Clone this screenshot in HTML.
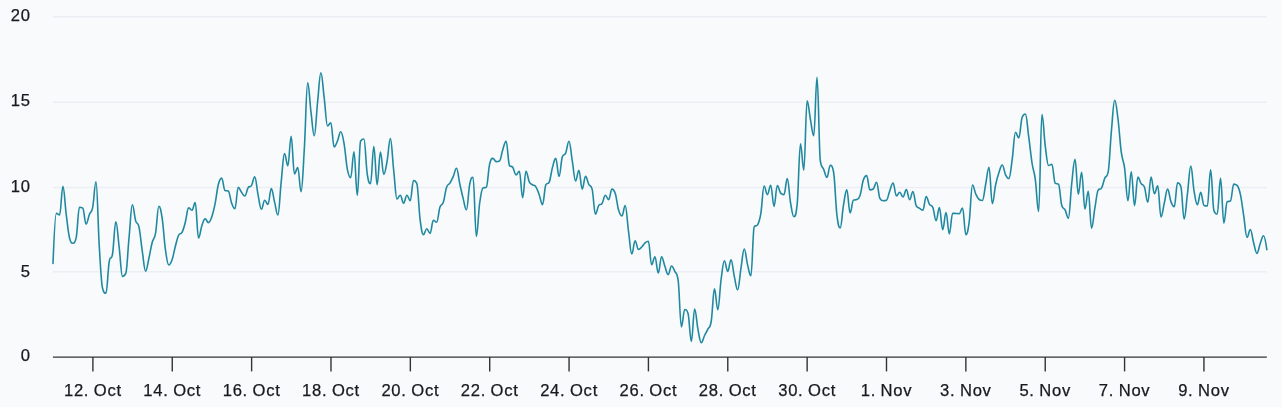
<!DOCTYPE html>
<html><head><meta charset="utf-8"><title>Chart</title>
<style>
html,body{margin:0;padding:0;background:#f8fafc;}
body{width:1282px;height:407px;overflow:hidden;}
svg{display:block;font-family:"Liberation Sans",sans-serif;font-size:16.6px;letter-spacing:0.72px;word-spacing:-0.7px;}
text{fill:#171a1e;stroke:#171a1e;stroke-width:0.25px;}
.g{stroke:#ebeef3;stroke-width:1.4;}
.t,.ax{stroke:#333;stroke-width:1.4;}
.s{fill:none;stroke:#2089a0;stroke-width:1.6;stroke-linejoin:round;stroke-linecap:round;}
</style></head><body>
<svg width="1282" height="407" viewBox="0 0 1282 407">
<rect width="1282" height="407" fill="#f8fafc"/>
<line x1="52.9" x2="1266.8" y1="271.80" y2="271.80" class="g"/>
<line x1="52.9" x2="1266.8" y1="187.50" y2="187.50" class="g"/>
<line x1="52.9" x2="1266.8" y1="102.20" y2="102.20" class="g"/>
<line x1="52.9" x2="1266.8" y1="16.70" y2="16.70" class="g"/>
<path class="s" d="M53.00 263.50C53.00 263.50 54.98 213.40 56.31 213.40C57.63 213.40 58.29 214.90 59.62 214.90C60.94 214.90 61.60 186.40 62.92 186.40C64.25 186.40 64.91 204.19 66.23 214.50C67.55 224.81 68.21 232.68 69.54 237.94C70.86 243.20 71.52 243.20 72.84 243.20C74.17 243.20 74.83 243.20 76.15 237.83C77.48 232.47 78.14 207.20 79.46 207.20C80.78 207.20 81.44 207.20 82.77 208.17C84.09 209.15 84.75 224.10 86.08 224.10C87.40 224.10 88.06 217.86 89.38 214.50C90.71 211.14 91.37 213.86 92.69 207.30C94.01 200.74 94.67 181.70 96.00 181.70C97.32 181.70 97.98 225.64 99.31 247.00C100.63 268.36 101.29 283.80 102.61 288.50C103.94 293.20 104.60 293.20 105.92 293.20C107.24 293.20 107.90 269.16 109.23 261.58C110.55 254.00 111.21 261.58 112.53 254.00C113.86 246.42 114.52 221.70 115.84 221.70C117.17 221.70 117.83 236.10 119.15 247.04C120.47 257.98 121.13 276.40 122.46 276.40C123.78 276.40 124.44 276.40 125.77 273.44C127.09 270.49 127.75 250.97 129.07 237.24C130.40 223.51 131.06 204.80 132.38 204.80C133.70 204.80 134.36 216.42 135.69 220.87C137.01 225.32 137.67 220.96 139.00 227.05C140.32 233.14 140.98 242.50 142.30 251.31C143.63 260.12 144.29 271.10 145.61 271.10C146.93 271.10 147.59 263.99 148.92 258.22C150.24 252.46 150.90 247.24 152.23 242.28C153.55 237.32 154.21 240.63 155.53 233.43C156.86 226.23 157.52 206.30 158.84 206.30C160.16 206.30 160.82 209.55 162.15 218.24C163.47 226.93 164.13 240.40 165.45 249.76C166.78 259.11 167.44 265.00 168.76 265.00C170.09 265.00 170.75 263.54 172.07 259.78C173.39 256.02 174.05 251.16 175.38 246.21C176.70 241.25 177.36 237.53 178.69 235.01C180.01 232.48 180.67 235.01 181.99 232.48C183.32 229.95 183.98 227.20 185.30 222.28C186.62 217.37 187.28 207.90 188.61 207.90C189.93 207.90 190.59 210.30 191.91 210.30C193.24 210.30 193.90 202.60 195.22 202.60C196.55 202.60 197.21 238.00 198.53 238.00C199.85 238.00 200.51 229.50 201.84 225.68C203.16 221.86 203.82 218.90 205.15 218.90C206.47 218.90 207.13 222.60 208.45 222.60C209.78 222.60 210.44 220.62 211.76 216.89C213.08 213.16 213.74 210.47 215.07 203.96C216.39 197.44 217.05 189.47 218.38 184.29C219.70 179.12 220.36 178.10 221.68 178.10C223.01 178.10 223.67 189.91 224.99 190.51C226.31 191.10 226.97 190.51 228.30 191.10C229.62 191.70 230.28 199.56 231.61 203.10C232.93 206.64 233.59 208.80 234.91 208.80C236.24 208.80 236.90 187.20 238.22 187.20C239.54 187.20 240.20 190.50 241.53 192.26C242.85 194.02 243.51 196.00 244.84 196.00C246.16 196.00 246.82 189.75 248.14 187.66C249.47 185.57 250.13 187.66 251.45 185.57C252.77 183.48 253.43 176.90 254.76 176.90C256.08 176.90 256.74 188.46 258.06 194.94C259.39 201.42 260.05 209.30 261.37 209.30C262.70 209.30 263.36 200.20 264.68 200.20C266.00 200.20 266.66 204.40 267.99 204.40C269.31 204.40 269.97 188.60 271.30 188.60C272.62 188.60 273.28 196.86 274.60 202.12C275.93 207.38 276.59 214.90 277.91 214.90C279.23 214.90 279.89 193.93 281.22 181.65C282.54 169.37 283.20 153.50 284.52 153.50C285.85 153.50 286.51 165.80 287.83 165.80C289.16 165.80 289.82 136.20 291.14 136.20C292.46 136.20 293.12 173.90 294.45 173.90C295.77 173.90 296.43 167.50 297.75 167.50C299.08 167.50 299.74 191.60 301.06 191.60C302.39 191.60 303.05 169.74 304.37 148.00C305.69 126.26 306.35 82.90 307.68 82.90C309.00 82.90 309.66 101.36 310.99 111.92C312.31 122.48 312.97 135.70 314.29 135.70C315.62 135.70 316.28 114.62 317.60 102.04C318.92 89.46 319.58 72.80 320.91 72.80C322.23 72.80 322.89 87.59 324.22 98.21C325.54 108.83 326.20 125.90 327.52 125.90C328.85 125.90 329.51 122.70 330.83 122.70C332.15 122.70 332.81 147.00 334.14 147.00C335.46 147.00 336.12 144.09 337.44 141.03C338.77 137.97 339.43 131.70 340.75 131.70C342.08 131.70 342.74 136.02 344.06 143.54C345.38 151.06 346.04 162.48 347.37 169.29C348.69 176.10 349.35 177.60 350.68 177.60C352.00 177.60 352.66 151.80 353.98 151.80C355.31 151.80 355.97 195.30 357.29 195.30C358.61 195.30 359.27 143.00 360.60 141.00C361.92 139.00 362.58 139.00 363.91 139.00C365.23 139.00 365.89 164.87 367.21 173.81C368.54 182.75 369.20 183.70 370.52 183.70C371.84 183.70 372.50 146.60 373.83 146.60C375.15 146.60 375.81 184.70 377.13 184.70C378.46 184.70 379.12 152.00 380.44 152.00C381.77 152.00 382.43 174.40 383.75 174.40C385.07 174.40 385.73 168.64 387.06 161.48C388.38 154.32 389.04 138.60 390.37 138.60C391.69 138.60 392.35 158.02 393.67 170.10C395.00 182.18 395.66 199.00 396.98 199.00C398.30 199.00 398.96 195.30 400.29 195.30C401.61 195.30 402.27 203.10 403.60 203.10C404.92 203.10 405.58 195.30 406.90 195.30C408.23 195.30 408.89 200.70 410.21 200.70C411.53 200.70 412.19 180.50 413.52 180.50C414.84 180.50 415.50 180.50 416.82 183.50C418.15 186.50 418.81 209.68 420.13 219.90C421.46 230.12 422.12 234.60 423.44 234.60C424.76 234.60 425.42 228.70 426.75 228.70C428.07 228.70 428.73 233.40 430.06 233.40C431.38 233.40 432.04 220.30 433.36 220.30C434.69 220.30 435.35 222.30 436.67 222.30C437.99 222.30 438.65 211.00 439.98 207.01C441.30 203.01 441.96 206.29 443.29 202.33C444.61 198.38 445.27 191.06 446.59 187.22C447.92 183.39 448.58 185.26 449.90 183.15C451.22 181.05 451.88 179.67 453.21 176.70C454.53 173.73 455.19 168.30 456.51 168.30C457.84 168.30 458.50 177.98 459.82 184.00C461.15 190.02 461.81 193.24 463.13 198.40C464.45 203.56 465.11 209.80 466.44 209.80C467.76 209.80 468.42 190.50 469.75 184.00C471.07 177.50 471.73 177.30 473.05 177.30C474.38 177.30 475.04 236.30 476.36 236.30C477.68 236.30 478.34 212.67 479.67 203.00C480.99 193.33 481.65 188.58 482.98 187.94C484.30 187.30 484.96 187.94 486.28 187.30C487.61 186.66 488.27 170.22 489.59 164.44C490.91 158.66 491.57 158.40 492.90 158.40C494.22 158.40 494.88 161.60 496.21 161.60C497.53 161.60 498.19 161.60 499.51 160.99C500.84 160.39 501.50 153.40 502.82 149.45C504.14 145.49 504.80 141.20 506.13 141.20C507.45 141.20 508.11 163.62 509.44 165.43C510.76 167.24 511.42 165.43 512.74 167.24C514.07 169.06 514.73 174.90 516.05 174.90C517.37 174.90 518.03 171.20 519.36 171.20C520.68 171.20 521.34 197.70 522.66 197.70C523.99 197.70 524.65 171.20 525.97 171.20C527.30 171.20 527.96 179.19 529.28 181.90C530.60 184.62 531.26 183.79 532.59 184.77C533.91 185.76 534.57 184.84 535.89 186.82C537.22 188.80 537.88 191.11 539.20 194.67C540.53 198.22 541.19 204.60 542.51 204.60C543.83 204.60 544.49 187.39 545.82 184.82C547.14 182.26 547.80 184.82 549.12 182.26C550.45 179.70 551.11 172.41 552.43 167.63C553.76 162.86 554.42 158.40 555.74 158.40C557.06 158.40 557.72 176.40 559.05 176.40C560.37 176.40 561.03 160.33 562.36 156.71C563.68 153.09 564.34 156.20 565.66 153.09C566.99 149.99 567.65 141.20 568.97 141.20C570.29 141.20 570.95 152.91 572.28 160.87C573.60 168.83 574.26 181.00 575.59 181.00C576.91 181.00 577.57 170.20 578.89 170.20C580.22 170.20 580.88 189.10 582.20 189.10C583.52 189.10 584.18 176.40 585.51 176.40C586.83 176.40 587.49 181.79 588.82 184.35C590.14 186.90 590.80 184.35 592.12 189.16C593.45 193.97 594.11 214.20 595.43 214.20C596.75 214.20 597.41 207.31 598.74 205.41C600.06 203.50 600.72 205.41 602.05 203.50C603.37 201.59 604.03 195.30 605.35 195.30C606.68 195.30 607.34 199.70 608.66 199.70C609.98 199.70 610.64 189.10 611.97 189.10C613.29 189.10 613.95 189.38 615.27 193.58C616.60 197.78 617.26 205.61 618.58 210.10C619.91 214.58 620.57 216.00 621.89 216.00C623.21 216.00 623.87 205.60 625.20 205.60C626.52 205.60 627.18 221.48 628.50 231.16C629.83 240.84 630.49 254.00 631.81 254.00C633.14 254.00 633.80 240.80 635.12 240.80C636.44 240.80 637.10 249.40 638.43 249.40C639.75 249.40 640.41 248.30 641.74 247.01C643.06 245.72 643.72 244.09 645.04 242.94C646.37 241.80 647.03 241.30 648.35 241.30C649.67 241.30 650.33 264.70 651.66 264.70C652.98 264.70 653.64 256.80 654.97 256.80C656.29 256.80 656.95 273.00 658.27 273.00C659.60 273.00 660.26 256.70 661.58 256.70C662.90 256.70 663.56 262.74 664.89 266.32C666.21 269.90 666.87 274.60 668.20 274.60C669.52 274.60 670.18 266.00 671.50 266.00C672.83 266.00 673.49 268.50 674.81 271.31C676.13 274.12 676.79 271.31 678.12 280.04C679.44 288.76 680.10 326.90 681.43 326.90C682.75 326.90 683.41 309.50 684.73 309.50C686.06 309.50 686.72 309.50 688.04 313.50C689.36 317.50 690.02 341.40 691.35 341.40C692.67 341.40 693.33 309.00 694.65 309.00C695.98 309.00 696.64 322.71 697.96 329.43C699.29 336.15 699.95 342.60 701.27 342.60C702.59 342.60 703.25 338.19 704.58 335.50C705.90 332.81 706.56 331.93 707.88 329.13C709.21 326.33 709.87 329.13 711.19 321.50C712.52 313.87 713.18 288.80 714.50 288.80C715.82 288.80 716.48 309.70 717.81 309.70C719.13 309.70 719.79 289.05 721.12 279.25C722.44 269.45 723.10 260.70 724.42 260.70C725.75 260.70 726.41 271.40 727.73 271.40C729.05 271.40 729.71 259.80 731.04 259.80C732.36 259.80 733.02 270.65 734.35 276.65C735.67 282.65 736.33 289.80 737.65 289.80C738.98 289.80 739.64 276.48 740.96 268.32C742.28 260.16 742.94 249.00 744.27 249.00C745.59 249.00 746.25 259.48 747.58 264.84C748.90 270.20 749.56 275.80 750.88 275.80C752.21 275.80 752.87 228.81 754.19 226.86C755.51 224.91 756.17 226.86 757.50 224.91C758.82 222.95 759.48 221.44 760.81 213.66C762.13 205.88 762.79 186.00 764.11 186.00C765.44 186.00 766.10 194.60 767.42 194.60C768.74 194.60 769.40 185.20 770.73 185.20C772.05 185.20 772.71 206.40 774.03 206.40C775.36 206.40 776.02 185.50 777.34 185.50C778.67 185.50 779.33 191.68 780.65 193.14C781.97 194.60 782.63 194.60 783.96 194.60C785.28 194.60 785.94 178.60 787.26 178.60C788.59 178.60 789.25 195.36 790.57 203.00C791.90 210.64 792.56 216.80 793.88 216.80C795.20 216.80 795.86 216.80 797.19 204.00C798.51 191.20 799.17 143.70 800.50 143.70C801.82 143.70 802.48 170.20 803.80 170.20C805.13 170.20 805.79 100.70 807.11 100.70C808.43 100.70 809.09 112.30 810.42 119.32C811.74 126.34 812.40 135.80 813.73 135.80C815.05 135.80 815.71 77.40 817.03 77.40C818.36 77.40 819.02 152.61 820.34 160.91C821.66 169.21 822.32 165.94 823.65 169.21C824.97 172.49 825.63 177.30 826.96 177.30C828.28 177.30 828.94 165.30 830.26 165.30C831.59 165.30 832.25 165.30 833.57 172.00C834.89 178.70 835.55 203.45 836.88 214.65C838.20 225.85 838.86 228.00 840.19 228.00C841.51 228.00 842.17 212.82 843.49 205.20C844.82 197.58 845.48 189.90 846.80 189.90C848.12 189.90 848.78 213.00 850.11 213.00C851.43 213.00 852.09 200.71 853.42 200.13C854.74 199.55 855.40 200.13 856.72 199.55C858.05 198.97 858.71 199.30 860.03 195.41C861.35 191.52 862.01 184.07 863.34 180.11C864.66 176.14 865.32 175.60 866.64 175.60C867.97 175.60 868.63 189.90 869.95 189.90C871.28 189.90 871.94 189.90 873.26 188.99C874.58 188.08 875.24 182.30 876.57 182.30C877.89 182.30 878.55 195.90 879.88 198.30C881.20 200.70 881.86 200.70 883.18 200.70C884.51 200.70 885.17 200.70 886.49 200.20C887.81 199.70 888.47 194.11 889.80 190.67C891.12 187.23 891.78 183.00 893.11 183.00C894.43 183.00 895.09 196.00 896.41 196.00C897.74 196.00 898.40 192.30 899.72 192.30C901.04 192.30 901.70 197.00 903.03 197.00C904.35 197.00 905.01 189.60 906.34 189.60C907.66 189.60 908.32 199.70 909.64 199.70C910.97 199.70 911.63 191.60 912.95 191.60C914.27 191.60 914.93 203.30 916.26 205.80C917.58 208.30 918.24 207.42 919.57 208.30C920.89 209.18 921.55 210.20 922.87 210.20C924.20 210.20 924.86 196.50 926.18 196.50C927.50 196.50 928.16 202.22 929.49 204.39C930.81 206.56 931.47 204.39 932.80 207.35C934.12 210.31 934.78 220.60 936.10 220.60C937.43 220.60 938.09 207.60 939.41 207.60C940.73 207.60 941.39 229.70 942.72 229.70C944.04 229.70 944.70 212.50 946.02 212.50C947.35 212.50 948.01 233.90 949.33 233.90C950.66 233.90 951.32 213.20 952.64 213.20C953.96 213.20 954.62 213.36 955.95 213.46C957.27 213.56 957.93 213.70 959.25 213.70C960.58 213.70 961.24 208.00 962.56 208.00C963.89 208.00 964.55 234.60 965.87 234.60C967.19 234.60 967.85 231.92 969.18 222.00C970.50 212.08 971.16 185.00 972.49 185.00C973.81 185.00 974.47 191.10 975.79 194.00C977.12 196.90 977.78 198.50 979.10 199.50C980.42 200.50 981.08 200.50 982.41 200.50C983.73 200.50 984.39 190.64 985.72 184.00C987.04 177.36 987.70 167.30 989.02 167.30C990.35 167.30 991.01 203.60 992.33 203.60C993.65 203.60 994.31 190.96 995.64 184.74C996.96 178.52 997.62 176.45 998.95 172.50C1000.27 168.55 1000.93 165.00 1002.25 165.00C1003.58 165.00 1004.24 172.10 1005.56 174.80C1006.88 177.50 1007.54 178.50 1008.87 178.50C1010.19 178.50 1010.85 168.94 1012.18 159.70C1013.50 150.46 1014.16 132.30 1015.48 132.30C1016.81 132.30 1017.47 137.90 1018.79 137.90C1020.11 137.90 1020.77 120.90 1022.10 117.50C1023.42 114.10 1024.08 114.10 1025.41 114.10C1026.73 114.10 1027.39 126.92 1028.71 136.70C1030.04 146.48 1030.70 154.43 1032.02 163.00C1033.34 171.57 1034.00 169.85 1035.33 179.53C1036.65 189.21 1037.31 211.40 1038.63 211.40C1039.96 211.40 1040.62 114.60 1041.94 114.60C1043.27 114.60 1043.93 135.77 1045.25 145.95C1046.57 156.13 1047.23 165.50 1048.56 165.50C1049.88 165.50 1050.54 164.20 1051.87 164.20C1053.19 164.20 1053.85 182.13 1055.17 183.18C1056.50 184.23 1057.16 183.18 1058.48 184.23C1059.80 185.29 1060.46 201.14 1061.79 205.56C1063.11 209.98 1063.77 207.47 1065.10 209.98C1066.42 212.49 1067.08 218.10 1068.40 218.10C1069.73 218.10 1070.39 195.42 1071.71 183.68C1073.03 171.94 1073.69 159.40 1075.02 159.40C1076.34 159.40 1077.00 194.20 1078.33 194.20C1079.65 194.20 1080.31 172.20 1081.63 172.20C1082.96 172.20 1083.62 209.00 1084.94 209.00C1086.26 209.00 1086.92 191.30 1088.25 191.30C1089.57 191.30 1090.23 228.10 1091.56 228.10C1092.88 228.10 1093.54 215.82 1094.86 208.22C1096.19 200.62 1096.85 192.05 1098.17 190.09C1099.49 188.14 1100.15 190.09 1101.48 188.14C1102.80 186.18 1103.46 181.32 1104.79 178.17C1106.11 175.03 1106.77 178.17 1108.09 172.40C1109.42 166.63 1110.08 145.60 1111.40 131.18C1112.72 116.76 1113.38 100.30 1114.71 100.30C1116.03 100.30 1116.69 108.82 1118.02 119.25C1119.34 129.68 1120.00 142.61 1121.32 152.44C1122.65 162.28 1123.31 158.78 1124.63 168.43C1125.95 178.08 1126.61 200.70 1127.94 200.70C1129.26 200.70 1129.92 171.70 1131.25 171.70C1132.57 171.70 1133.23 205.60 1134.55 205.60C1135.88 205.60 1136.54 177.10 1137.86 177.10C1139.18 177.10 1139.84 181.63 1141.17 183.66C1142.49 185.70 1143.15 183.66 1144.48 187.27C1145.80 190.89 1146.46 202.30 1147.78 202.30C1149.11 202.30 1149.77 177.10 1151.09 177.10C1152.41 177.10 1153.07 193.80 1154.40 193.80C1155.72 193.80 1156.38 185.70 1157.70 185.70C1159.03 185.70 1159.69 217.00 1161.01 217.00C1162.34 217.00 1163.00 208.49 1164.32 202.91C1165.64 197.33 1166.30 189.10 1167.63 189.10C1168.95 189.10 1169.61 198.09 1170.93 201.63C1172.26 205.17 1172.92 206.80 1174.24 206.80C1175.57 206.80 1176.23 182.90 1177.55 182.90C1178.87 182.90 1179.53 182.90 1180.86 186.50C1182.18 190.10 1182.84 219.00 1184.16 219.00C1185.49 219.00 1186.15 204.25 1187.47 193.67C1188.80 183.09 1189.46 166.10 1190.78 166.10C1192.10 166.10 1192.76 183.43 1194.09 191.15C1195.41 198.87 1196.07 204.70 1197.39 204.70C1198.72 204.70 1199.38 192.40 1200.70 192.40C1202.03 192.40 1202.69 204.90 1204.01 205.45C1205.33 206.00 1205.99 206.00 1207.32 206.00C1208.64 206.00 1209.30 169.80 1210.62 169.80C1211.95 169.80 1212.61 207.17 1213.93 210.59C1215.26 214.00 1215.92 214.00 1217.24 214.00C1218.56 214.00 1219.22 178.40 1220.55 178.40C1221.87 178.40 1222.53 223.10 1223.86 223.10C1225.18 223.10 1225.84 202.48 1227.16 201.74C1228.49 201.00 1229.15 201.74 1230.47 201.00C1231.79 200.26 1232.45 184.10 1233.78 184.10C1235.10 184.10 1235.76 184.10 1237.09 185.39C1238.41 186.67 1239.07 188.35 1240.39 194.40C1241.72 200.45 1242.38 207.02 1243.70 215.62C1245.02 224.22 1245.68 237.40 1247.01 237.40C1248.33 237.40 1248.99 229.50 1250.32 229.50C1251.64 229.50 1252.30 238.01 1253.62 242.79C1254.95 247.57 1255.61 253.40 1256.93 253.40C1258.25 253.40 1258.91 247.03 1260.24 243.49C1261.56 239.95 1262.22 235.70 1263.55 235.70C1264.87 235.70 1266.85 249.70 1266.85 249.70"/>
<line x1="52.9" x2="1266.8" y1="357.1" y2="357.1" class="ax"/>
<line x1="92.90" x2="92.90" y1="357.1" y2="371.4" class="t"/>
<line x1="172.26" x2="172.26" y1="357.1" y2="371.4" class="t"/>
<line x1="251.62" x2="251.62" y1="357.1" y2="371.4" class="t"/>
<line x1="330.98" x2="330.98" y1="357.1" y2="371.4" class="t"/>
<line x1="410.34" x2="410.34" y1="357.1" y2="371.4" class="t"/>
<line x1="489.70" x2="489.70" y1="357.1" y2="371.4" class="t"/>
<line x1="569.06" x2="569.06" y1="357.1" y2="371.4" class="t"/>
<line x1="648.42" x2="648.42" y1="357.1" y2="371.4" class="t"/>
<line x1="727.78" x2="727.78" y1="357.1" y2="371.4" class="t"/>
<line x1="807.14" x2="807.14" y1="357.1" y2="371.4" class="t"/>
<line x1="886.50" x2="886.50" y1="357.1" y2="371.4" class="t"/>
<line x1="965.86" x2="965.86" y1="357.1" y2="371.4" class="t"/>
<line x1="1045.22" x2="1045.22" y1="357.1" y2="371.4" class="t"/>
<line x1="1124.58" x2="1124.58" y1="357.1" y2="371.4" class="t"/>
<line x1="1203.94" x2="1203.94" y1="357.1" y2="371.4" class="t"/>
<text x="30.7" y="360.85" text-anchor="end">0</text>
<text x="30.7" y="276.85" text-anchor="end">5</text>
<text x="30.7" y="191.90" text-anchor="end">10</text>
<text x="30.7" y="105.85" text-anchor="end">15</text>
<text x="30.7" y="20.85" text-anchor="end">20</text>
<text x="92.90" y="396" text-anchor="middle">12. Oct</text>
<text x="172.26" y="396" text-anchor="middle">14. Oct</text>
<text x="251.62" y="396" text-anchor="middle">16. Oct</text>
<text x="330.98" y="396" text-anchor="middle">18. Oct</text>
<text x="410.34" y="396" text-anchor="middle">20. Oct</text>
<text x="489.70" y="396" text-anchor="middle">22. Oct</text>
<text x="569.06" y="396" text-anchor="middle">24. Oct</text>
<text x="648.42" y="396" text-anchor="middle">26. Oct</text>
<text x="727.78" y="396" text-anchor="middle">28. Oct</text>
<text x="807.14" y="396" text-anchor="middle">30. Oct</text>
<text x="886.50" y="396" text-anchor="middle">1. Nov</text>
<text x="965.86" y="396" text-anchor="middle">3. Nov</text>
<text x="1045.22" y="396" text-anchor="middle">5. Nov</text>
<text x="1124.58" y="396" text-anchor="middle">7. Nov</text>
<text x="1203.94" y="396" text-anchor="middle">9. Nov</text>
</svg>
</body></html>
